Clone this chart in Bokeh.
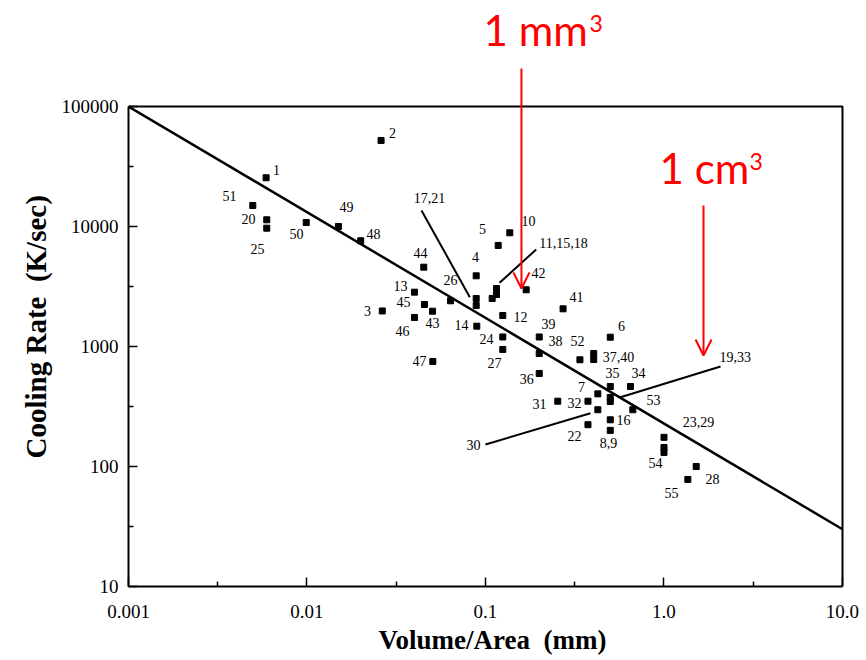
import math
from bokeh.plotting import figure
from bokeh.models import ColumnDataSource, FixedTicker, Label, Arrow, OpenHead, Title
from bokeh.core.properties import value
from bokeh.embed import file_html
from bokeh.resources import INLINE

# ---- data: Volume/Area (mm) vs Cooling Rate (K/sec) ----
point_id = ["1", "2", "51", "20", "25", "50", "49", "48", "13", "3", "46", "44", "26", "45", "43",
            "4", "17", "21", "5", "10", "11", "15", "18", "42", "12", "14", "24", "27", "47",
            "41", "39", "38", "36", "52", "37", "40", "6", "35", "34", "7", "19", "33", "31",
            "32", "30", "22", "16", "8,9", "53", "23", "29", "54", "28", "55"]
point_x = [0.0059, 0.026, 0.00497, 0.00595, 0.00595, 0.0099, 0.0150, 0.0200, 0.0400, 0.0264,
           0.0400, 0.0451, 0.0637, 0.0455, 0.0505,
           0.0887, 0.0887, 0.0887, 0.1178, 0.1368, 0.1152, 0.1152, 0.1090, 0.169, 0.125, 0.0894,
           0.125, 0.125, 0.0507,
           0.272, 0.200, 0.200, 0.200, 0.338, 0.404, 0.404, 0.500, 0.500, 0.649, 0.426, 0.500,
           0.500, 0.254,
           0.375, 0.426, 0.375, 0.500, 0.500, 0.669, 1.0, 1.0, 1.0, 1.515, 1.36]
point_y = [25470, 52100, 14960, 11370, 9680, 10800, 10000, 7600, 2835, 1977, 1745, 4580, 2403,
           2239, 1968,
           3882, 2512, 2197, 6950, 8860, 3043, 2712, 2512, 2968, 1813, 1476, 1200, 944, 750,
           2061, 1200, 874, 596, 775, 874, 779, 1195, 464, 464, 403, 376, 348, 350,
           350, 297, 223, 245, 200, 297, 175, 144, 131, 100, 78]

fit_x = [0.001, 10.0]
fit_y = [100000, 30]

label_text = ["1", "2", "51", "20", "25", "50", "49", "48", "17,21", "44", "13", "45", "3", "46",
              "43", "26", "14", "4", "5", "10", "11,15,18", "42", "12", "24", "27", "47", "41",
              "39", "38", "52", "6", "37,40", "36", "35", "34", "7", "53", "31", "32", "22", "16",
              "8,9", "30", "19,33", "23,29", "54", "28", "55"]
label_x = [0.00675, 0.0301, 0.00368, 0.0047, 0.00528, 0.00873, 0.01665, 0.02358, 0.0486, 0.04324,
           0.0334, 0.0347, 0.0218, 0.0343, 0.0505, 0.0637, 0.0734, 0.0879, 0.0961, 0.1742,
           0.2735, 0.1982, 0.157, 0.1013, 0.1123, 0.0427, 0.3236, 0.2254, 0.2466, 0.3273,
           0.578, 0.556, 0.170, 0.5146, 0.719, 0.345, 0.873, 0.2007, 0.315, 0.315, 0.593,
           0.489, 0.0857, 2.51, 1.56, 0.895, 1.87, 1.10]
label_y = [29290, 59570, 17780, 11440, 6430, 8740, 14400, 8740, 17110, 5960, 3162, 2326, 1957,
           1334, 1555, 3548, 1496, 5520, 9620, 11010, 7220, 4060, 1745, 1144, 722, 750, 2560,
           1525, 1101, 1101, 1468, 825, 541, 607, 607, 464, 355, 329, 335, 181, 242, 155.5,
           150, 825, 237, 106, 79.4, 59.6]

leader_x0 = [0.0438, 0.1923, 0.100, 2.073]
leader_y0 = [13590, 6431, 152.5, 681]
leader_x1 = [0.0817, 0.1198, 0.387, 0.570]
leader_y1 = [2576, 3393, 278, 378]

x_ticks = [0.001, 0.01, 0.1, 1.0, 10.0]
x_tick_labels = ["0.001", "0.01", "0.1", "1.0", "10.0"]
x_minor = [0.00316, 0.0316, 0.316, 3.16]
y_ticks = [10, 100, 1000, 10000, 100000]
y_tick_labels = ["10", "100", "1000", "10000", "100000"]
y_minor = [31.6, 316, 3162, 31623]

# red annotations: V/A of a 1 mm^3 and a 1 cm^3 cube
mm_arrow = dict(x=0.159, y_start=207400, y_end=3044)
cm_arrow = dict(x=1.665, y_start=14960, y_end=841)
mm_text = dict(x=0.0976, y=429900, sup_x=0.383, sup_y=491600)
cm_text = dict(x=0.944, y=30430, sup_x=3.01, sup_y=34830)

SERIF = "Liberation Serif"
X0, X1 = x_ticks[0], x_ticks[-1]
Y0, Y1 = y_ticks[0], y_ticks[-1]

# the frame extends above and to the right of the boxed axes so that the red
# annotations above the box are not clipped
p = figure(width=866, height=660, x_axis_type="log", y_axis_type="log",
           x_range=(X0, 13.63), y_range=(Y0, 764000),
           output_backend="svg", toolbar_location=None,
           min_border_left=128, min_border_right=0, min_border_top=0, min_border_bottom=74,
           background_fill_color="white", border_fill_color="white")
p.grid.visible = False
p.outline_line_color = None

p.xaxis.ticker = FixedTicker(ticks=x_ticks, minor_ticks=x_minor)
p.yaxis.ticker = FixedTicker(ticks=y_ticks, minor_ticks=y_minor)
p.xaxis.major_label_overrides = dict(zip(x_ticks, x_tick_labels))
p.yaxis.major_label_overrides = dict(zip(y_ticks, y_tick_labels))
p.xaxis.bounds = (X0, X1)
p.yaxis.bounds = (Y0, Y1)

for ax in (p.xaxis[0], p.yaxis[0]):
    ax.axis_line_width = 2
    ax.axis_line_color = "black"
    ax.major_tick_in = 9
    ax.major_tick_out = 0
    ax.minor_tick_in = 5
    ax.minor_tick_out = 0
    ax.major_tick_line_width = 1.5
    ax.minor_tick_line_width = 1.5
    ax.major_label_text_font = SERIF
    ax.major_label_text_font_size = "19px"
    ax.major_label_text_color = "black"

p.xaxis.major_label_standoff = 18
p.yaxis.major_label_standoff = 10

# axis titles
p.add_layout(Title(text="Volume/Area\u00a0 (mm)", align="left", offset=250, standoff=4,
                   vertical_align="bottom",
                   text_font=SERIF, text_font_style="bold", text_font_size="27px",
                   text_color="black"), "below")
p.add_layout(Title(text="Cooling Rate\u00a0 (K/sec)", align="left", offset=128, standoff=14,
                   text_font=SERIF, text_font_style="bold", text_font_size="29px",
                   text_color="black"), "left")

# top and right sides of the box
p.line([X0, X1, X1], [Y1, Y1, Y0], line_color="black", line_width=2)

# regression line
p.line(fit_x, fit_y, line_color="black", line_width=2.5)

# leader lines
p.segment(x0=leader_x0, y0=leader_y0, x1=leader_x1, y1=leader_y1, line_color="black", line_width=2)

# points
p.scatter(point_x, point_y, marker="square", size=6, color="black")

# point labels
lsrc = ColumnDataSource(dict(x=label_x, y=label_y, t=label_text))
p.text(x="x", y="y", text="t", source=lsrc, text_font=value(SERIF), text_font_size="14px",
       text_align="center", text_baseline="middle", text_color="black")

# red arrows and captions
for a in (mm_arrow, cm_arrow):
    p.add_layout(Arrow(end=OpenHead(size=16, line_color="red", line_width=2),
                       x_start=a["x"], y_start=a["y_start"], x_end=a["x"], y_end=a["y_end"],
                       line_color="red", line_width=2))
for t, unit in ((mm_text, "1 mm"), (cm_text, "1 cm")):
    p.add_layout(Label(x=t["x"], y=t["y"], text=unit, text_font="Lato", text_font_size="42px",
                       text_color="red", text_align="left", text_baseline="alphabetic"))
    p.add_layout(Label(x=t["sup_x"], y=t["sup_y"], text="3", text_font="Lato",
                       text_font_size="23px", text_color="red", text_align="left",
                       text_baseline="alphabetic"))

open("out.html", "w").write(file_html(p, INLINE))
